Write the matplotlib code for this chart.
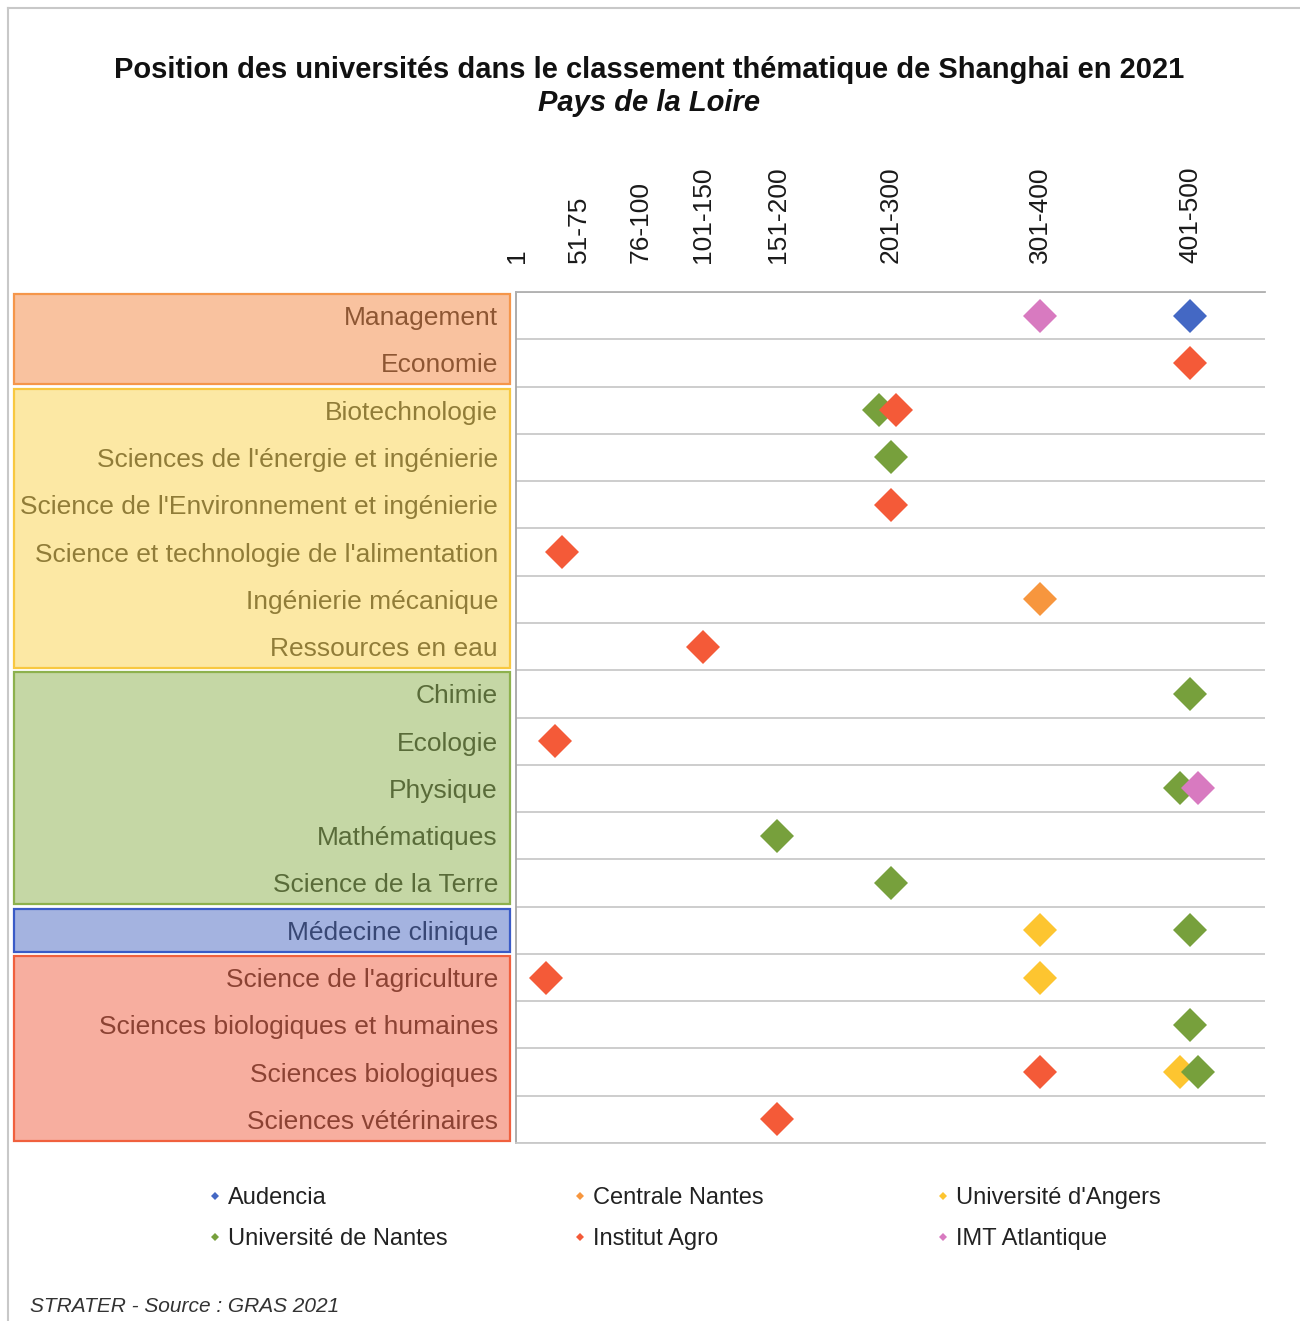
import matplotlib
matplotlib.use('Agg')
import matplotlib.pyplot as plt
import matplotlib.transforms as mtransforms
from matplotlib.patches import Rectangle
from matplotlib.lines import Line2D
from matplotlib.colors import to_rgba
import numpy as np

plt.rcParams['font.family'] = ['Liberation Sans', 'DejaVu Sans']

# ---------------- data ----------------
subjects = [
    "Management", "Economie",
    "Biotechnologie", "Sciences de l'énergie et ingénierie",
    "Science de l'Environnement et ingénierie",
    "Science et technologie de l'alimentation", "Ingénierie mécanique",
    "Ressources en eau",
    "Chimie", "Ecologie", "Physique", "Mathématiques", "Science de la Terre",
    "Médecine clinique",
    "Science de l'agriculture", "Sciences biologiques et humaines",
    "Sciences biologiques", "Sciences vétérinaires",
]
group_sizes = [2, 6, 5, 1, 4]

tick_pos = [1, 42, 83, 125, 175, 250, 350, 450]
tick_labels = ["1", "51-75", "76-100", "101-150", "151-200", "201-300", "301-400", "401-500"]

audencia_subj = ["Management"]
audencia_pos = [450]

centrale_subj = ["Ingénierie mécanique"]
centrale_pos = [350]

angers_subj = ["Médecine clinique", "Science de l'agriculture", "Sciences biologiques"]
angers_pos = [350, 350, 443]

nantes_subj = ["Biotechnologie", "Sciences de l'énergie et ingénierie", "Chimie",
               "Physique", "Mathématiques", "Science de la Terre",
               "Médecine clinique", "Sciences biologiques et humaines",
               "Sciences biologiques"]
nantes_pos = [242, 250, 450, 443, 174, 250, 450, 450, 455]

agro_subj = ["Economie", "Biotechnologie", "Science de l'Environnement et ingénierie",
             "Science et technologie de l'alimentation", "Ressources en eau",
             "Ecologie", "Science de l'agriculture", "Sciences biologiques",
             "Sciences vétérinaires"]
agro_pos = [450, 254, 250, 31, 125, 26, 20, 350, 174]

imt_subj = ["Management", "Physique"]
imt_pos = [350, 455]

series_names = ["Audencia", "Centrale Nantes", "Université d'Angers",
                "Université de Nantes", "Institut Agro", "IMT Atlantique"]

# ---------------- style ----------------
series_colors = ["#4468c4", "#f7963e", "#fdc530", "#77a03c", "#f45a38", "#d87ac0"]
group_fill = ["#f58741", "#fbd34b", "#8db14d", "#4b69c3", "#f15f41"]
group_edge = ["#f5964a", "#f8c840", "#8db14d", "#3a5bc7", "#f0603e"]

W, H = 1300, 1321
fig = plt.figure(figsize=(W / 100, H / 100), dpi=100)
fig.patch.set_facecolor('white')

ax = fig.add_axes([516 / W, 1 - 1143 / H, (1265 - 516) / W, (1143 - 292) / H])

series = [
    (audencia_subj, audencia_pos),
    (centrale_subj, centrale_pos),
    (angers_subj, angers_pos),
    (nantes_subj, nantes_pos),
    (agro_subj, agro_pos),
    (imt_subj, imt_pos),
]
for (subj, pos), name, col in zip(series, series_names, series_colors):
    yy = [subjects.index(s) for s in subj]
    ax.plot(pos, yy, linestyle='none', marker='D', ms=17.5, mew=0, color=col,
            label=name, zorder=3, clip_on=False)

n = len(subjects)
ax.set_xlim(0, 500)
ax.set_ylim(n - 0.5, -0.5)

ax.set_yticks(range(n))
ax.set_yticklabels(subjects, fontsize=19, color='#262626')
ax.tick_params(axis='y', which='major', length=0, pad=13)
ax.set_yticks(np.arange(-0.5, n, 1), minor=True)
ax.tick_params(axis='y', which='minor', length=0)
ax.grid(axis='y', which='minor', color='#c9c9c9', lw=1.3)
ax.grid(axis='x', visible=False)
ax.set_axisbelow(True)

ax.xaxis.tick_top()
ax.set_xticks(tick_pos)
ax.set_xticklabels(tick_labels, rotation=90, fontsize=19, color='#1a1a1a')
ax.tick_params(axis='x', length=0, pad=21)

ax.spines['right'].set_visible(False)
ax.spines['left'].set_color('#a6a6a6')
ax.spines['left'].set_linewidth(1.3)
ax.spines['top'].set_color('#b0b0b0')
ax.spines['top'].set_linewidth(1.3)
ax.spines['bottom'].set_color('#c9c9c9')
ax.spines['bottom'].set_linewidth(1.3)

# coloured group boxes over the category labels
blend = mtransforms.blended_transform_factory(fig.transFigure, ax.transData)
start = 0
for size, fc, ec in zip(group_sizes, group_fill, group_edge):
    rect = Rectangle((14 / W, start - 0.5 + 0.045), (510 - 14) / W, size - 0.09,
                     transform=blend, facecolor=to_rgba(fc, 0.5), edgecolor=ec,
                     lw=1.6, zorder=2, clip_on=False)
    fig.add_artist(rect)
    start += size

# titles
fig.text(649 / W, 1 - 70 / H,
         "Position des universités dans le classement thématique de Shanghai en 2021",
         ha='center', va='center', fontsize=21, fontweight='bold', color='#111111')
fig.text(649 / W, 1 - 103 / H, "Pays de la Loire", ha='center', va='center',
         fontsize=21, fontweight='bold', style='italic', color='#111111')

# legend: three columns
handles = [Line2D([], [], linestyle='none', marker='D', ms=4, mew=0, color=c)
           for c in series_colors]
cols = [(0, 3), (1, 4), (2, 5)]
col_x = [208, 573, 936]
for (i, j), x in zip(cols, col_x):
    fig.legend([handles[i], handles[j]], [series_names[i], series_names[j]],
               loc='upper left', bbox_to_anchor=(x / W, 1 - 1187 / H),
               bbox_transform=fig.transFigure, frameon=False, fontsize=17,
               handlelength=0.6, handletextpad=0.25, borderpad=0,
               borderaxespad=0, labelspacing=0.8, labelcolor='#222222')

fig.text(30 / W, 1 - 1306 / H, "STRATER - Source : GRAS 2021", ha='left',
         va='center', fontsize=15, style='italic', color='#333333')

# outer frame lines
fig.add_artist(Line2D([8 / W, 8 / W], [0, 1 - 8 / H], transform=fig.transFigure,
                      color='#c8c8c8', lw=1.5))
fig.add_artist(Line2D([8 / W, 1], [1 - 8 / H, 1 - 8 / H], transform=fig.transFigure,
                      color='#c8c8c8', lw=1.5))

fig.savefig('out.png', dpi=100)
